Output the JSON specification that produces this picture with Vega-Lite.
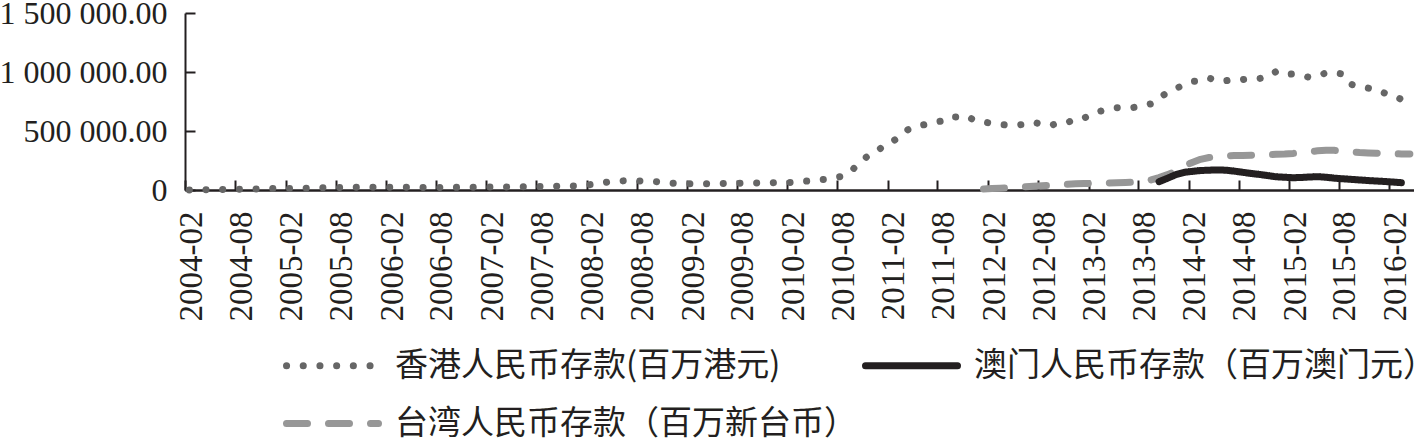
{
  "$schema": "https://vega.github.io/schema/vega-lite/v6.json",
  "width": 1229,
  "height": 177,
  "autosize": {"type": "none"},
  "padding": {"left": 185, "top": 13, "right": 0, "bottom": 249},
  "background": "white",
  "config": {
    "view": {"stroke": null},
    "axis": {"grid": false, "labelFont": "Liberation Serif", "labelColor": "#231f20", "domainColor": "#231f20", "tickColor": "#231f20", "title": null}
  },
  "data": {"values": [
    {"d":"2004-02","hk":895},{"d":"2004-03","hk":1471},{"d":"2004-04","hk":2000},{"d":"2004-05","hk":2810},{"d":"2004-06","hk":3856},{"d":"2004-07","hk":4870},{"d":"2004-08","hk":5900},{"d":"2004-09","hk":6950},{"d":"2004-10","hk":8100},{"d":"2004-11","hk":9400},{"d":"2004-12","hk":12127},
    {"d":"2005-01","hk":12800},{"d":"2005-02","hk":13200},{"d":"2005-03","hk":14400},{"d":"2005-04","hk":15600},{"d":"2005-05","hk":16800},{"d":"2005-06","hk":18500},{"d":"2005-07","hk":19600},{"d":"2005-08","hk":21200},{"d":"2005-09","hk":22300},{"d":"2005-10","hk":22500},{"d":"2005-11","hk":22900},{"d":"2005-12","hk":22586},
    {"d":"2006-01","hk":23000},{"d":"2006-02","hk":23300},{"d":"2006-03","hk":23000},{"d":"2006-04","hk":22500},{"d":"2006-05","hk":22200},{"d":"2006-06","hk":22000},{"d":"2006-07","hk":21600},{"d":"2006-08","hk":21800},{"d":"2006-09","hk":21600},{"d":"2006-10","hk":22400},{"d":"2006-11","hk":22800},{"d":"2006-12","hk":23403},
    {"d":"2007-01","hk":24000},{"d":"2007-02","hk":24800},{"d":"2007-03","hk":25400},{"d":"2007-04","hk":26100},{"d":"2007-05","hk":27200},{"d":"2007-06","hk":27400},{"d":"2007-07","hk":28500},{"d":"2007-08","hk":29600},{"d":"2007-09","hk":31200},{"d":"2007-10","hk":32400},{"d":"2007-11","hk":33200},{"d":"2007-12","hk":33400},
    {"d":"2008-01","hk":38000},{"d":"2008-02","hk":46000},{"d":"2008-03","hk":56000},{"d":"2008-04","hk":67000},{"d":"2008-05","hk":73000},{"d":"2008-06","hk":77700},{"d":"2008-07","hk":78000},{"d":"2008-08","hk":77000},{"d":"2008-09","hk":73000},{"d":"2008-10","hk":70000},{"d":"2008-11","hk":62000},{"d":"2008-12","hk":56100},
    {"d":"2009-01","hk":54000},{"d":"2009-02","hk":54000},{"d":"2009-03","hk":54000},{"d":"2009-04","hk":54000},{"d":"2009-05","hk":54000},{"d":"2009-06","hk":55000},{"d":"2009-07","hk":56000},{"d":"2009-08","hk":57500},{"d":"2009-09","hk":58500},{"d":"2009-10","hk":59000},{"d":"2009-11","hk":60000},{"d":"2009-12","hk":62700},
    {"d":"2010-01","hk":63000},{"d":"2010-02","hk":63500},{"d":"2010-03","hk":74000},{"d":"2010-04","hk":76000},{"d":"2010-05","hk":84000},{"d":"2010-06","hk":89700},{"d":"2010-07","hk":100000},{"d":"2010-08","hk":115000},{"d":"2010-09","hk":149000},{"d":"2010-10","hk":217000},{"d":"2010-11","hk":279000},{"d":"2010-12","hk":315000},
    {"d":"2011-01","hk":370000},{"d":"2011-02","hk":407000},{"d":"2011-03","hk":451000},{"d":"2011-04","hk":511000},{"d":"2011-05","hk":541000},{"d":"2011-06","hk":554000},{"d":"2011-07","hk":572000},{"d":"2011-08","hk":584000},{"d":"2011-09","hk":622000},{"d":"2011-10","hk":618000},{"d":"2011-11","hk":627000},{"d":"2011-12","hk":588000},
    {"d":"2012-01","hk":577000,"tw":8000},{"d":"2012-02","hk":564000,"tw":12000},{"d":"2012-03","hk":554000,"tw":15000},{"d":"2012-04","hk":551000,"tw":18000},{"d":"2012-05","hk":550000,"tw":22000},{"d":"2012-06","hk":558000,"tw":27000},{"d":"2012-07","hk":575000,"tw":32000},{"d":"2012-08","hk":557000,"tw":36000},{"d":"2012-09","hk":546000,"tw":40000},{"d":"2012-10","hk":570000,"tw":44000},{"d":"2012-11","hk":571000,"tw":48000},{"d":"2012-12","hk":603000,"tw":52000},
    {"d":"2013-01","hk":609000,"tw":55000},{"d":"2013-02","hk":646000,"tw":57000},{"d":"2013-03","hk":668000,"tw":58000},{"d":"2013-04","hk":685000,"tw":60000},{"d":"2013-05","hk":697000,"tw":61000},{"d":"2013-06","hk":698000,"tw":63000},{"d":"2013-07","hk":700000,"tw":66000},{"d":"2013-08","hk":712000,"tw":72000},{"d":"2013-09","hk":730000,"tw":85000},{"d":"2013-10","hk":782000,"mo":70000,"tw":105000},{"d":"2013-11","hk":826000,"mo":100000,"tw":130000},{"d":"2013-12","hk":860000,"mo":130000,"tw":160000},
    {"d":"2014-01","hk":892000,"mo":150000,"tw":205000},{"d":"2014-02","hk":920000,"mo":158000,"tw":235000},{"d":"2014-03","hk":926000,"mo":165000,"tw":260000},{"d":"2014-04","hk":949000,"mo":168000,"tw":275000},{"d":"2014-05","hk":925000,"mo":170000,"tw":285000},{"d":"2014-06","hk":926000,"mo":168000,"tw":290000},{"d":"2014-07","hk":938000,"mo":160000,"tw":292000},{"d":"2014-08","hk":936000,"mo":150000,"tw":293000},{"d":"2014-09","hk":945000,"mo":140000,"tw":295000},{"d":"2014-10","hk":944000,"mo":132000,"tw":297000},{"d":"2014-11","hk":960000,"mo":122000,"tw":299000},{"d":"2014-12","hk":1003600,"mo":112000,"tw":302000},
    {"d":"2015-01","hk":977000,"mo":108000,"tw":305000},{"d":"2015-02","hk":984000,"mo":104000,"tw":310000},{"d":"2015-03","hk":971000,"mo":106000,"tw":318000},{"d":"2015-04","hk":955000,"mo":110000,"tw":325000},{"d":"2015-05","hk":968000,"mo":113000,"tw":332000},{"d":"2015-06","hk":992000,"mo":108000,"tw":336000},{"d":"2015-07","hk":996000,"mo":100000,"tw":336000},{"d":"2015-08","hk":982000,"mo":95000,"tw":330000},{"d":"2015-09","hk":895000,"mo":90000,"tw":322000},{"d":"2015-10","hk":873000,"mo":85000,"tw":317000},{"d":"2015-11","hk":864000,"mo":80000,"tw":314000},{"d":"2015-12","hk":851000,"mo":76000,"tw":312000},
    {"d":"2016-01","hk":820000,"mo":72000,"tw":310000},{"d":"2016-02","hk":802000,"mo":67000,"tw":308000},{"d":"2016-03","hk":767000,"mo":62000,"tw":306000},{"d":"2016-04","tw":305000}
  ]},
  "transform": [
    {"fold": ["hk", "mo", "tw"], "as": ["s", "v"]},
    {"filter": "isValid(datum.v)"}
  ],
  "mark": {"type": "line", "strokeCap": "round", "strokeJoin": "round", "strokeWidth": 7},
  "encoding": {
    "x": {
      "field": "d", "type": "temporal",
      "scale": {"type": "utc", "domain": [{"year": 2004, "month": 1, "date": 16, "hours": 12, "utc": true}, {"year": 2016, "month": 4, "date": 16, "utc": true}]},
      "axis": {
        "values": [
          {"year":2004,"month":2,"date":1,"utc":true},{"year":2004,"month":8,"date":1,"utc":true},
          {"year":2005,"month":2,"date":1,"utc":true},{"year":2005,"month":8,"date":1,"utc":true},
          {"year":2006,"month":2,"date":1,"utc":true},{"year":2006,"month":8,"date":1,"utc":true},
          {"year":2007,"month":2,"date":1,"utc":true},{"year":2007,"month":8,"date":1,"utc":true},
          {"year":2008,"month":2,"date":1,"utc":true},{"year":2008,"month":8,"date":1,"utc":true},
          {"year":2009,"month":2,"date":1,"utc":true},{"year":2009,"month":8,"date":1,"utc":true},
          {"year":2010,"month":2,"date":1,"utc":true},{"year":2010,"month":8,"date":1,"utc":true},
          {"year":2011,"month":2,"date":1,"utc":true},{"year":2011,"month":8,"date":1,"utc":true},
          {"year":2012,"month":2,"date":1,"utc":true},{"year":2012,"month":8,"date":1,"utc":true},
          {"year":2013,"month":2,"date":1,"utc":true},{"year":2013,"month":8,"date":1,"utc":true},
          {"year":2014,"month":2,"date":1,"utc":true},{"year":2014,"month":8,"date":1,"utc":true},
          {"year":2015,"month":2,"date":1,"utc":true},{"year":2015,"month":8,"date":1,"utc":true},
          {"year":2016,"month":2,"date":1,"utc":true}
        ],
        "labelExpr": "utcFormat(datum.value, '%Y-%m')",
        "labelAngle": -90, "labelFontSize": 33, "labelPadding": 31,
        "labelOverlap": false, "labelFlush": false,
        "tickSize": -10, "tickWidth": 2, "tickOffset": -4, "labelOffset": 6,
        "domainWidth": 2.5
      }
    },
    "y": {
      "field": "v", "type": "quantitative",
      "scale": {"domain": [0, 1500000]},
      "axis": {
        "values": [0, 500000, 1000000, 1500000],
        "labelExpr": "datum.value == 0 ? '0' : replace(format(datum.value, ',.2f'), regexp(',', 'g'), ' ')",
        "labelFontSize": 32, "labelPadding": 28,
        "tickSize": -10, "tickWidth": 2, "domainWidth": 2
      }
    },
    "color": {
      "field": "s", "type": "nominal",
      "scale": {"domain": ["hk", "mo", "tw"], "range": ["#666666", "#231f20", "#979797"]},
      "legend": {
        "title": null, "orient": "none", "legendX": 93, "legendY": 336,
        "columns": 2, "direction": "horizontal", "gridAlign": "each",
        "symbolType": "M-1,0H10.5", "symbolSize": 256, "symbolStrokeWidth": 7,
        "labelFont": "Noto Sans CJK SC", "labelFontSize": 33, "labelColor": "#231f20",
        "labelOffset": 84, "labelLimit": 0, "rowPadding": 24, "columnPadding": -105, "padding": 0,
        "labelExpr": "datum.value == 'hk' ? '香港人民币存款(百万港元)' : datum.value == 'mo' ? '澳门人民币存款（百万澳门元）' : '台湾人民币存款（百万新台币）'",
        "encode": {"symbols": {"update": {"strokeCap": {"value": "round"}, "fill": {"value": "transparent"}}}}
      }
    },
    "strokeDash": {
      "field": "s", "type": "nominal",
      "scale": {"domain": ["hk", "mo", "tw"], "range": [[0.1, 16.6], [1, 0], [21, 21]]},
      "legend": {
        "title": null, "orient": "none", "legendX": 93, "legendY": 336,
        "columns": 2, "direction": "horizontal", "gridAlign": "each",
        "symbolType": "M-1,0H10.5", "symbolSize": 256, "symbolStrokeWidth": 7,
        "labelFont": "Noto Sans CJK SC", "labelFontSize": 33, "labelColor": "#231f20",
        "labelOffset": 84, "labelLimit": 0, "rowPadding": 24, "columnPadding": -105, "padding": 0,
        "labelExpr": "datum.value == 'hk' ? '香港人民币存款(百万港元)' : datum.value == 'mo' ? '澳门人民币存款（百万澳门元）' : '台湾人民币存款（百万新台币）'",
        "encode": {"symbols": {"update": {"strokeCap": {"value": "round"}, "fill": {"value": "transparent"}}}}
      }
    }
  }
}
